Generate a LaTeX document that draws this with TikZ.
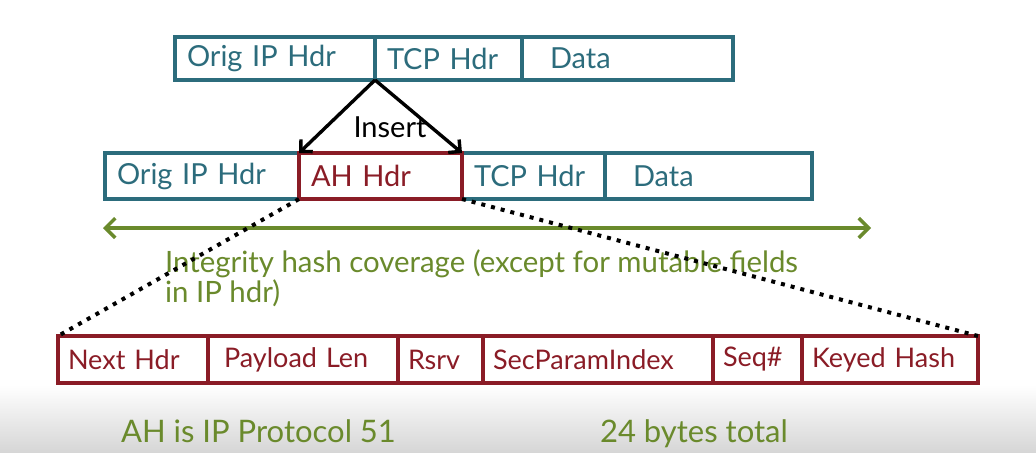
\documentclass[tikz,border=0pt]{standalone}
\usepackage{fontspec}
\setmainfont{Lato}
\usetikzlibrary{positioning,arrows.meta}
\definecolor{ipteal}{HTML}{2C6C7C}
\definecolor{ahred}{HTML}{8A1C26}
\definecolor{covgreen}{HTML}{6A8A2C}

\begin{document}
\begin{tikzpicture}[
  x=0.5pt,y=-0.5pt,
  font=\fontsize{14.5}{16}\selectfont,
  fld/.style={rectangle,draw,line width=1.6pt,inner xsep=6pt,inner ysep=0pt,
              outer sep=0pt,text width=#1,align=left,anchor=west},
  toprow/.style={minimum height=21.5pt,draw=ipteal,text=ipteal},
  midrow/.style={minimum height=23pt,draw=ipteal,text=ipteal},
  ahrow/.style={minimum height=23pt,draw=ahred,text=ahred},
  botrow/.style={minimum height=23.5pt,draw=ahred,text=ahred,inner xsep=5pt,
                 font=\fontsize{13.5}{15}\selectfont},
  ins/.style={line width=1.7pt,-{Straight Barb[angle=90:6pt]}},
  cov/.style={covgreen,line width=1.7pt,{Straight Barb[angle=90:7pt]}-{Straight Barb[angle=90:7pt]}},
  dots/.style={line width=2pt,dash pattern=on 2pt off 3pt},
  covtext/.style={text=covgreen,font=\fontsize{14.7}{15}\selectfont,align=left}
]
\useasboundingbox (0,0) rectangle (1036,452);
\fill[top color=white,bottom color=black!16,draw=none] (0,385) rectangle (1036,452);

% ---- original packet ----
\node[fld=88pt,toprow] (ipA) at (175,58.5) {Orig IP Hdr};
\node[fld=61.5pt,toprow,right=0pt of ipA] (tcpA) {TCP Hdr};
\node[fld=93.5pt,toprow,right=0pt of tcpA] (dataA) {\hspace*{8pt}Data};

% ---- packet with AH ----
\node[fld=85pt,midrow] (ipB) at (105,176) {Orig IP Hdr};
\node[fld=59.5pt,midrow,right=81.5pt of ipB] (tcpB) {TCP Hdr};
\node[fld=91.5pt,midrow,right=0pt of tcpB] (dataB) {\hspace*{8pt}Data};
\node[fld=69.5pt,ahrow,right=0pt of ipB] (ahB) {AH Hdr};

% ---- insert ----
\draw[ins] (ipA.south east) -- (ahB.north west);
\draw[ins] (ipA.south east) -- (ahB.north east);
\node (insl) at (390,127) {Insert};

% ---- coverage ----
\coordinate (covL) at (103,228);
\coordinate (covR) at (871,228);
\draw[cov] (covL) -- (covR);
\node[covtext,anchor=north west] (covtxt) at (158,243)
  {Integrity hash coverage (except for mutable fields\\in IP hdr)};

% ---- AH fields ----
\node[fld=65pt,botrow] (nextC) at (58,359.5) {Next Hdr};
\node[fld=85pt,botrow,right=0pt of nextC] (lenC) {\hspace*{3pt}Payload Len};
\node[fld=32.5pt,botrow,right=0pt of lenC] (rsrvC) {Rsrv};
\node[fld=105pt,botrow,right=0pt of rsrvC] (spiC) {SecParamIndex};
\node[fld=34.5pt,botrow,right=0pt of spiC] (seqC) {Seq\#};
\node[fld=78pt,botrow,right=0pt of seqC] (keyC) {Keyed Hash};

\draw[dots] (ahB.south west) -- (nextC.north west);
\draw[dots] (ahB.south east) -- (keyC.north east);

% ---- notes ----
\node[covtext,anchor=base west,font=\fontsize{15.5}{16}\selectfont] (proto) at (114,442) {AH is IP Protocol 51};
\node[covtext,anchor=base west,font=\fontsize{15.5}{16}\selectfont] (total) at (593,442) {24 bytes total};
\end{tikzpicture}
\end{document}
